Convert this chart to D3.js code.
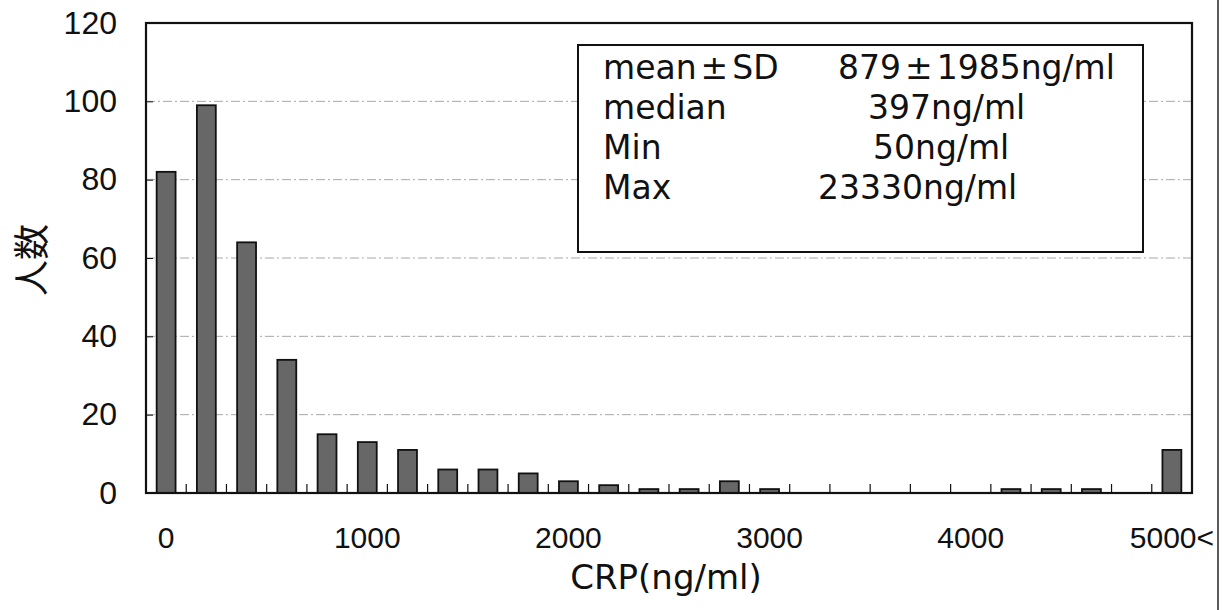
<!DOCTYPE html>
<html>
<head>
<meta charset="utf-8">
<script src="https://cdn.jsdelivr.net/npm/d3@7"></script>
<style>
  body { margin: 0; background: #fff; }
  svg { display: block; }
  .tick text { fill: #111; }
</style>
</head>
<body>
<svg id="chart" width="1227" height="610"></svg>
<script>
// CRP bins (lower bound, ng/ml), last one is the open bin
var categories = ["0", "200", "400", "600", "800", "1000", "1200", "1400", "1600", "1800",
  "2000", "2200", "2400", "2600", "2800", "3000", "3200", "3400", "3600", "3800",
  "4000", "4200", "4400", "4600", "4800", "5000<"];
var counts = [82, 99, 64, 34, 15, 13, 11, 6, 6, 5,
  3, 2, 1, 1, 3, 1, 0, 0, 0, 0,
  0, 1, 1, 1, 0, 11];
var xTickLabels = ["0", "1000", "2000", "3000", "4000", "5000<"];
var yTicks = [0, 20, 40, 60, 80, 100, 120];
var statNames = [["mean", "\u00b1", "SD"], ["median"], ["Min"], ["Max"]];
var statValues = [["879", "\u00b1", "1985ng/ml"], ["397ng/ml"], ["50ng/ml"], ["23330ng/ml"]];

var svg = d3.select('#chart');
var margin = { top: 23, left: 146, right: 35, bottom: 117 };
var W = 1227, H = 610;
var x0 = margin.left, x1 = W - margin.right;
var y0 = H - margin.bottom, y1 = margin.top;

var x = d3.scaleBand().domain(categories).range([x0, x1])
  .paddingInner(0.53).paddingOuter(0.265);
var y = d3.scaleLinear().domain([0, 120]).range([y0, y1]);
var step = x.step();

// grid
svg.append('g').selectAll('line').data(yTicks.filter(function (d) { return d > 0 && d < 120; }))
  .enter().append('line')
  .attr('x1', x0).attr('x2', x1)
  .attr('y1', function (d) { return y(d); }).attr('y2', function (d) { return y(d); })
  .attr('stroke', '#a8a8a8').attr('stroke-width', 1).attr('stroke-dasharray', '9,3,2,3');

// bars
svg.append('g').selectAll('rect').data(counts).enter().append('rect')
  .attr('x', function (d, i) { return x(categories[i]); })
  .attr('y', function (d) { return y(d); })
  .attr('width', x.bandwidth())
  .attr('height', function (d) { return y0 - y(d); })
  .attr('fill', '#676767').attr('stroke', '#111').attr('stroke-width', 1.8);

// small upward ticks between the bins
svg.append('g').selectAll('line').data(categories.slice(1)).enter().append('line')
  .attr('x1', function (d) { return x(d) + x.bandwidth() / 2 - step / 2; })
  .attr('x2', function (d) { return x(d) + x.bandwidth() / 2 - step / 2; })
  .attr('y1', y0).attr('y2', y0 - 9)
  .attr('stroke', '#111').attr('stroke-width', 1.2);

// frame
svg.append('rect').attr('x', x0).attr('y', y1).attr('width', x1 - x0).attr('height', y0 - y1)
  .attr('fill', 'none').attr('stroke', '#111').attr('stroke-width', 2.2);

// y axis
var yAxis = d3.axisLeft(y).tickValues(yTicks).tickSizeInner(-7).tickSizeOuter(0).tickPadding(29);
var gy = svg.append('g').attr('transform', 'translate(' + x0 + ',0)').call(yAxis);
gy.select('.domain').remove();
gy.selectAll('.tick line').attr('stroke', '#111');
gy.selectAll('text').attr('font-family', '"Liberation Sans", Arial, sans-serif').attr('font-size', 32);

// x axis
var xAxis = d3.axisBottom(x).tickValues(["0", "1000", "2000", "3000", "4000", "5000<"]).tickSize(0).tickPadding(34)
  .tickFormat(function (d, i) { return xTickLabels[i]; });
var gx = svg.append('g').attr('transform', 'translate(0,' + y0 + ')').call(xAxis);
gx.select('.domain').remove();
gx.selectAll('text').attr('font-family', '"Liberation Sans", Arial, sans-serif').attr('font-size', 30);

// axis titles
svg.append('text').attr('x', 666).attr('y', 589)
  .attr('text-anchor', 'middle').attr('font-family', '"DejaVu Sans", sans-serif').attr('font-size', 34)
  .attr('fill', '#111').text('CRP(ng/ml)');
svg.append('text').attr('transform', 'translate(29,260) rotate(-90)')
  .attr('text-anchor', 'middle').attr('dominant-baseline', 'central')
  .attr('font-family', '"Noto Sans CJK JP", sans-serif').attr('font-size', 36)
  .attr('fill', '#111').text('人数');

// stats box
var box = svg.append('g');
box.append('rect').attr('x', 578).attr('y', 45).attr('width', 565).attr('height', 207)
  .attr('fill', '#fff').attr('stroke', '#111').attr('stroke-width', 2);
var rowY = [79, 119, 159, 199];
var valX = [838, 868, 873, 818];

function addRow(parts, xPos, yPos) {
  var t = box.append('text').attr('x', xPos).attr('y', yPos)
    .attr('font-family', '"DejaVu Sans", sans-serif').attr('font-size', 33).attr('fill', '#111');
  parts.forEach(function (p, j) {
    t.append('tspan').attr('dx', j > 0 ? 4 : 0).text(p);
  });
}
statNames.forEach(function (s, i) {
  addRow(s, 603, rowY[i]);
  addRow(statValues[i], valX[i], rowY[i]);
});

// page edge line at the far right
svg.append('line').attr('x1', 1218).attr('x2', 1218).attr('y1', 0).attr('y2', H)
  .attr('stroke', '#222').attr('stroke-width', 1.5);
</script>
</body>
</html>
